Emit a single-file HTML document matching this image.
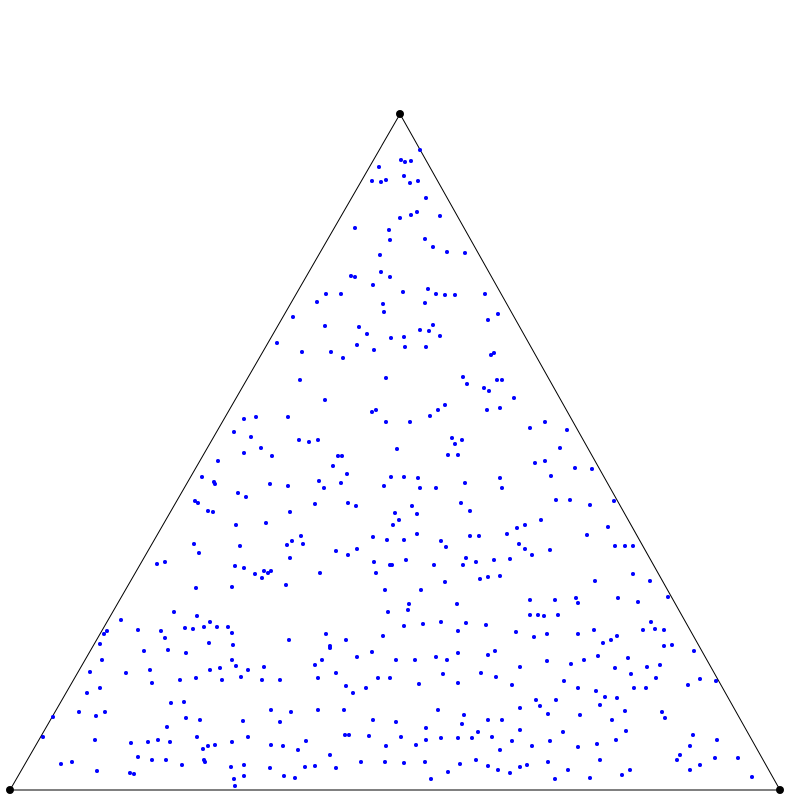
<!DOCTYPE html>
<html><head><meta charset="utf-8"><style>html,body{margin:0;background:#fff}svg{display:block}</style></head>
<body>
<svg id="chart" width="800" height="800" viewBox="0 0 800 800" xmlns="http://www.w3.org/2000/svg">
<g id="tri"></g>
<g id="pts"></g>
<g id="verts"></g>
</svg>
<script>
const vertexX = [0, 770, 390];
const vertexY = [0, 0, 676];
const raw = [[401,160],[405,162],[411,161],[379,167],[404,176],[372,181],[381,182],[386,180],[410,183],[420,150],[418,181],[426,198],[417,212],[411,215],[400,218],[355,228],[389,230],[390,240],[440,216],[425,239],[433,247],[447,252],[380,255],[465,253],[351,276],[355,277],[381,272],[390,277],[403,292],[373,285],[428,289],[436,294],[445,295],[455,295],[326,294],[341,294],[317,302],[383,304],[384,312],[425,303],[293,317],[325,326],[359,327],[367,334],[391,338],[404,337],[420,330],[429,331],[433,325],[440,336],[485,294],[488,320],[498,314],[277,343],[302,352],[331,352],[343,358],[357,345],[374,350],[405,347],[426,347],[494,353],[491,355],[300,380],[386,378],[463,377],[467,384],[484,388],[489,391],[497,380],[502,380],[325,400],[372,412],[376,410],[386,422],[445,405],[438,410],[430,416],[500,408],[487,410],[514,398],[244,419],[256,417],[234,432],[251,437],[288,417],[299,440],[309,442],[318,440],[410,422],[452,438],[455,444],[462,440],[545,422],[567,430],[530,428],[244,453],[261,448],[272,456],[342,456],[338,456],[347,474],[333,466],[397,449],[391,477],[404,477],[448,455],[458,455],[218,461],[202,477],[214,482],[215,484],[238,493],[246,497],[270,484],[288,486],[319,481],[341,483],[324,488],[384,486],[418,478],[420,488],[436,488],[465,483],[500,478],[502,488],[535,463],[545,461],[551,476],[560,448],[575,468],[592,469],[195,501],[198,503],[208,511],[213,512],[236,525],[266,523],[290,512],[315,504],[348,503],[356,506],[395,513],[399,520],[412,506],[417,514],[393,525],[461,503],[470,511],[517,528],[525,525],[541,520],[570,500],[590,505],[556,500],[614,501],[608,527],[194,544],[199,553],[240,546],[292,541],[287,545],[301,536],[303,544],[336,551],[348,555],[357,549],[373,537],[387,540],[404,540],[417,534],[441,541],[446,547],[470,536],[479,536],[507,534],[519,544],[525,549],[532,555],[550,550],[587,535],[615,546],[625,546],[633,546],[157,564],[165,562],[235,566],[244,568],[255,574],[262,578],[268,573],[264,571],[271,571],[290,558],[320,573],[374,562],[376,573],[392,565],[406,560],[390,565],[434,565],[463,565],[466,558],[476,562],[480,579],[488,577],[500,576],[510,559],[494,560],[633,574],[595,581],[650,581],[196,588],[232,587],[286,585],[385,590],[421,590],[445,582],[457,604],[409,604],[408,610],[388,612],[530,600],[555,600],[576,598],[578,603],[618,598],[638,602],[668,597],[174,612],[197,616],[210,622],[107,631],[104,634],[121,620],[138,630],[161,631],[165,638],[185,628],[193,629],[204,627],[217,627],[228,627],[232,633],[289,640],[326,634],[330,646],[346,640],[383,636],[404,626],[423,624],[441,622],[458,631],[466,623],[486,625],[516,632],[530,615],[538,615],[544,616],[558,615],[534,637],[547,634],[578,634],[594,630],[603,643],[611,640],[617,636],[651,622],[655,629],[664,630],[643,630],[664,646],[672,645],[694,651],[100,644],[102,660],[144,651],[168,650],[186,653],[209,643],[233,645],[232,660],[210,670],[220,668],[236,666],[248,670],[264,667],[315,665],[322,660],[330,648],[357,657],[372,652],[396,660],[415,660],[436,657],[447,660],[458,653],[488,655],[495,651],[520,667],[547,661],[571,664],[584,660],[598,656],[615,668],[628,658],[631,674],[647,667],[660,665],[656,678],[688,685],[700,679],[716,681],[90,672],[87,693],[100,688],[126,673],[150,670],[152,683],[180,680],[196,678],[222,680],[241,677],[262,680],[280,680],[318,678],[336,673],[346,686],[353,693],[366,688],[378,678],[390,678],[419,684],[443,674],[458,683],[481,673],[496,677],[512,685],[536,700],[564,681],[578,688],[596,691],[605,697],[617,698],[634,688],[646,688],[600,705],[625,711],[662,712],[665,718],[53,717],[79,712],[96,716],[105,712],[171,703],[184,702],[186,718],[200,720],[243,721],[271,710],[280,722],[291,712],[318,710],[344,710],[373,720],[396,722],[426,728],[438,710],[464,715],[488,720],[502,720],[520,708],[540,706],[556,700],[548,714],[580,715],[612,720],[43,737],[95,740],[131,743],[148,742],[158,740],[167,727],[170,742],[197,737],[203,749],[208,746],[215,745],[204,760],[232,742],[248,737],[271,745],[283,746],[298,750],[306,741],[345,735],[349,735],[369,736],[386,746],[401,737],[416,745],[426,740],[441,738],[458,738],[462,724],[472,738],[478,732],[492,737],[500,750],[512,741],[520,730],[532,746],[550,741],[563,732],[578,747],[597,744],[616,740],[626,731],[693,735],[690,746],[717,740],[61,764],[72,762],[97,771],[130,773],[134,774],[138,757],[152,760],[166,760],[182,765],[205,762],[231,767],[244,765],[270,768],[284,776],[295,778],[305,767],[315,766],[336,768],[385,762],[404,763],[425,762],[431,779],[448,772],[460,764],[476,760],[488,766],[498,770],[510,773],[520,767],[527,765],[548,762],[568,770],[590,778],[600,760],[622,775],[630,770],[677,760],[690,770],[700,765],[715,758],[738,758],[752,777],[234,779],[235,786],[244,776],[330,755],[361,762],[555,779],[680,755]];
// data coordinates: x from left vertex, y height above base
const xs = raw.map(p => p[0] - 10);
const ys = raw.map(p => 790 - p[1]);

const sx = v => 10 + v;
const sy = v => 790 - v;
const NS = 'http://www.w3.org/2000/svg';

const tri = document.getElementById('tri');
const poly = document.createElementNS(NS, 'polygon');


poly.setAttribute('points', vertexX.map((x, i) => sx(x) + ',' + sy(vertexY[i])).join(' '));
poly.setAttribute('fill', 'none');
poly.setAttribute('stroke', '#000');
poly.setAttribute('stroke-width', '1');
tri.appendChild(poly);

const pts = document.getElementById('pts');
for (let i = 0; i < xs.length; i++) {
  const c = document.createElementNS(NS, 'circle');
  
  
  c.setAttribute('cx', sx(xs[i]));
  c.setAttribute('cy', sy(ys[i]));
  c.setAttribute('r', '2');
  c.setAttribute('fill', '#0000ff');
  pts.appendChild(c);
}

const verts = document.getElementById('verts');
for (let i = 0; i < vertexX.length; i++) {
  const c = document.createElementNS(NS, 'circle');
  
  
  c.setAttribute('cx', sx(vertexX[i]));
  c.setAttribute('cy', sy(vertexY[i]));
  c.setAttribute('r', '4');
  c.setAttribute('fill', '#000');
  verts.appendChild(c);
}
</script>
</body></html>
